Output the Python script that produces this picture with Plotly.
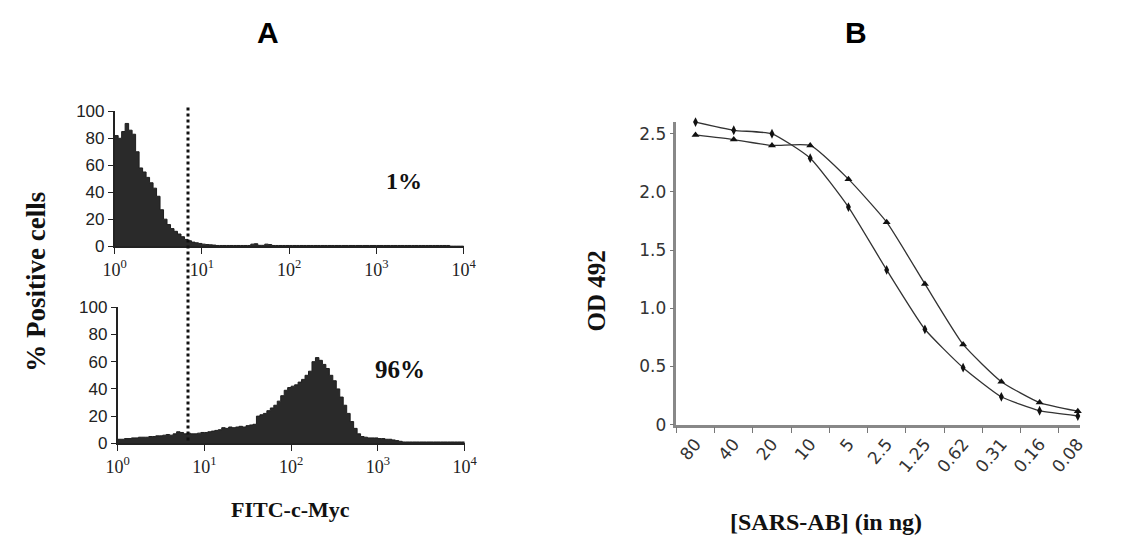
import numpy as np
import plotly.graph_objects as go

# ---------------- Data ----------------
# Panel A: flow cytometry histograms, bins in log10(FITC) units (left edges, step 0.04)
BIN_LEFT_LOG = [round(0.04 * i, 2) for i in range(100)]
hist_top = ([82, 80, 85, 91, 86, 83, 70, 58, 55, 51,
             47, 43, 37, 27, 20, 16, 13, 11, 9, 7,
             5, 4, 3, 2.5, 2, 1.5, 1.2, 1, 0.8]
            + [0.5] * 10
            + [1.5, 1.8, 0.6, 0.6, 1.5, 1.2]
            + [0.5] * 51
            + [0, 0, 0, 0])
hist_bottom = ([3, 3, 3.5, 3.5, 4, 4, 4.5, 4.5, 4.5, 5,
                5, 5.5, 5.5, 6, 6.5, 6, 7, 8.5, 8, 7,
                7.5, 7, 7, 7.5, 8, 8, 8.5, 9, 9.5, 10,
                11.5, 11, 12, 11.5, 12, 12.5, 12, 13, 13.5, 14,
                20, 21, 22, 24, 26, 28, 31, 35, 39, 41,
                42, 43, 45, 47, 50, 53, 60, 63, 61, 58,
                55, 50, 46, 40, 34, 28, 22, 16, 11, 7,
                5, 4.5, 4, 4, 4, 3.5, 3.5, 3, 3, 2.5,
                2, 1.5]
               + [1] * 18)
A_TICKVALS = [1, 10, 100, 1000, 10000]
A_TICKTEXT = ["10<sup>0</sup>", "10<sup>1</sup>", "10<sup>2</sup>", "10<sup>3</sup>", "10<sup>4</sup>"]
A_YTICKS = [0, 20, 40, 60, 80, 100]
GATE = 6.9
pct_top = "1%"
pct_bottom = "96%"

# Panel B: ELISA
sars_ab = ["80", "40", "20", "10", "5", "2.5", "1.25", "0.62", "0.31", "0.16", "0.08"]
od_series1 = [2.60, 2.53, 2.50, 2.29, 1.87, 1.33, 0.82, 0.49, 0.24, 0.12, 0.075]
od_series2 = [2.49, 2.45, 2.40, 2.40, 2.11, 1.74, 1.21, 0.69, 0.37, 0.19, 0.116]
B_YTICKS = [0, 0.5, 1.0, 1.5, 2.0, 2.5]
B_YTEXT = ["0", "0.5", "1.0", "1.5", "2.0", "2.5"]

W, H = 1125, 546
def px(x):
    return x / W
def py(y):
    return 1 - y / H

fig = go.Figure()

def hist_trace(vals, xa, ya):
    edges = [10 ** e for e in BIN_LEFT_LOG] + [10 ** 4]
    yv = list(vals) + [vals[-1]]
    return go.Scatter(x=edges, y=yv, mode="lines", line=dict(shape="hv", color="#1e1e1e", width=1),
                      fill="tozeroy", fillcolor="#2a2a2a", xaxis=xa, yaxis=ya, showlegend=False,
                      hoverinfo="skip")

fig.add_trace(hist_trace(hist_top, "x", "y"))
fig.add_trace(hist_trace(hist_bottom, "x2", "y2"))

fig.add_trace(go.Scatter(x=sars_ab, y=od_series1, mode="lines+markers", cliponaxis=False,
                         line=dict(color="#333", width=1.3, shape="spline", smoothing=0.5),
                         marker=dict(symbol="diamond-tall", size=7, color="#111"),
                         xaxis="x3", yaxis="y3", showlegend=False))
fig.add_trace(go.Scatter(x=sars_ab, y=od_series2, mode="lines+markers", cliponaxis=False,
                         line=dict(color="#333", width=1.3, shape="spline", smoothing=0.5),
                         marker=dict(symbol="triangle-up", size=7, color="#111"),
                         xaxis="x3", yaxis="y3", showlegend=False))

a_tickfont = dict(family="Liberation Serif", size=18, color="#222")
a_ytickfont = dict(family="Liberation Sans", size=17, color="#222")
common_a_x = dict(type="log", range=[0, 4], tickvals=A_TICKVALS, ticktext=A_TICKTEXT,
                  showline=True, linecolor="#222", linewidth=1.5, ticks="outside", ticklen=6,
                  tickcolor="#222", showgrid=False, zeroline=False, tickfont=a_tickfont)
common_a_y = dict(range=[0, 100], tickvals=A_YTICKS, showline=True, linecolor="#222",
                  linewidth=1.5, ticks="outside", ticklen=5, tickcolor="#222",
                  showgrid=False, zeroline=False, tickfont=a_ytickfont)

fig.update_layout(
    width=W, height=H, margin=dict(l=0, r=0, t=0, b=0),
    paper_bgcolor="white", plot_bgcolor="white",
    xaxis=dict(domain=[px(105), px(462)], anchor="y", **common_a_x),
    yaxis=dict(domain=[py(245.7), py(106)], anchor="x", **common_a_y),
    xaxis2=dict(domain=[px(108), px(463)], anchor="y2", **common_a_x),
    yaxis2=dict(domain=[py(450), py(309)], anchor="x2", **common_a_y),
    xaxis3=dict(domain=[px(679.5), px(1092)], anchor="y3", type="category",
                range=[-0.5, 10.05], tickson="boundaries", ticks="outside", ticklen=6,
                tickcolor="#777", showline=True, linecolor="#888", linewidth=2.5,
                showgrid=False, tickangle=-50,
                tickfont=dict(family="DejaVu Sans", size=17, color="#333")),
    yaxis3=dict(domain=[py(430.7), py(117.2)], anchor="x3", range=[0, 2.6],
                tickvals=B_YTICKS, ticktext=B_YTEXT, ticks="outside", ticklen=4,
                tickcolor="#777", showline=True, linecolor="#888", linewidth=2.5,
                showgrid=False, zeroline=False,
                tickfont=dict(family="DejaVu Sans", size=17, color="#333")),
)

# Gate line (dotted) spanning both histograms
fig.add_shape(type="line", xref="paper", yref="paper", x0=px(180), x1=px(180),
              y0=py(447), y1=py(101), line=dict(color="#111", width=3, dash="dot"))

ann = []
ann.append(dict(text="<b>A</b>", x=px(262), y=py(24), font=dict(family="Liberation Sans", size=30, color="#000")))
ann.append(dict(text="<b>B</b>", x=px(863), y=py(24), font=dict(family="Liberation Sans", size=30, color="#000")))
ann.append(dict(text="<b>%s</b>" % pct_top, x=px(401), y=py(178), font=dict(family="Liberation Serif", size=24, color="#111")))
ann.append(dict(text="<b>%s</b>" % pct_bottom, x=px(397), y=py(374), font=dict(family="Liberation Serif", size=25, color="#111")))
ann.append(dict(text="<b>% Positive cells</b>", x=px(25), y=py(282), textangle=-90,
                font=dict(family="Liberation Serif", size=27, color="#111")))
ann.append(dict(text="<b>FITC-c-Myc</b>", x=px(285), y=py(519), font=dict(family="Liberation Serif", size=22, color="#111")))
ann.append(dict(text="<b>OD 492</b>", x=px(598), y=py(292), textangle=-90,
                font=dict(family="Liberation Serif", size=25, color="#111")))
ann.append(dict(text="<b>[SARS-AB] (in ng)</b>", x=px(833), y=py(532), font=dict(family="Liberation Serif", size=24, color="#111")))
for a in ann:
    a.update(xref="paper", yref="paper", showarrow=False, xanchor="center", yanchor="middle")
fig.update_layout(annotations=ann)

fig.write_html("out.html", config={"displayModeBar": False},
               post_script="document.body.style.margin='0';")
